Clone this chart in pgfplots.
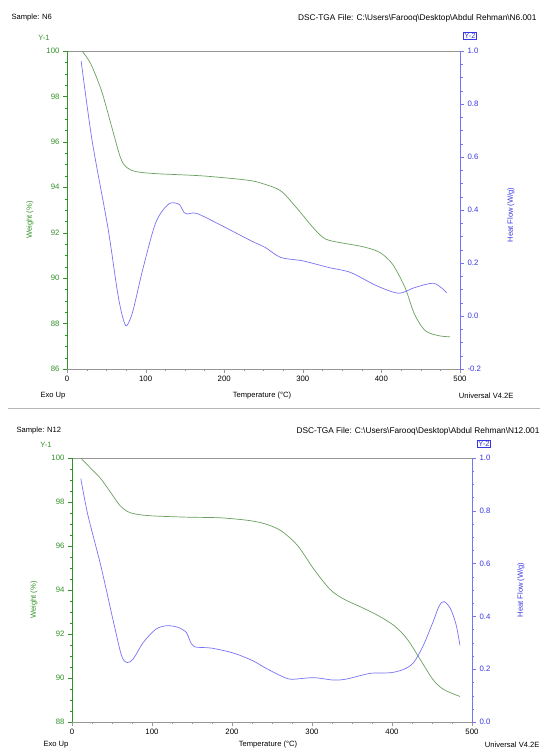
\documentclass[border=0pt]{standalone}
\usepackage{fontspec}
\setmainfont{Liberation Sans}
\usepackage{pgfplots}
\pgfplotsset{compat=1.18}
\usepackage{pgfplotstable}

\definecolor{tgagreen}{RGB}{105,160,95}
\definecolor{labgreen}{RGB}{50,145,40}
\definecolor{dscblue}{RGB}{120,115,245}
\definecolor{labblue}{RGB}{55,55,225}
\definecolor{framegray}{RGB}{150,150,150}

% N6: weight (%) and heat flow (W/g) against temperature
\pgfplotstableread{
T W
19 100.0
30 99.45
44 98.24
56 96.77
68 95.31
76 94.87
88 94.69
113 94.60
173 94.50
230 94.31
250 94.15
272 93.84
292 93.10
313 92.23
329 91.72
353 91.53
377 91.38
398 91.13
414 90.62
430 89.59
442 88.42
456 87.68
474 87.46
487 87.42
}\tgaA
\pgfplotstableread{
T H
18 0.962
32 0.661
52 0.334
64 0.095
70 0.005
75 -0.037
80 -0.015
85 0.032
97 0.183
113 0.353
129 0.422
141 0.424
145 0.412
149 0.390
153 0.385
165 0.387
193 0.347
234 0.284
252 0.259
272 0.221
300 0.208
333 0.183
361 0.164
394 0.114
422 0.086
442 0.107
467 0.123
483 0.088
}\dscA
% N12
\pgfplotstableread{
T W
11 100.0
24 99.51
36 99.06
48 98.45
60 97.84
71 97.54
85 97.42
105 97.36
145 97.31
186 97.28
221 97.16
241 97.01
261 96.70
282 96.02
302 94.96
322 94.05
338 93.62
362 93.21
383 92.83
403 92.37
419 91.77
435 90.86
451 89.94
464 89.49
485 89.16
}\tgaB
\pgfplotstableread{
T H
11 0.922
20 0.782
36 0.592
52 0.377
62 0.251
69 0.225
77 0.241
89 0.301
105 0.352
119 0.365
133 0.358
143 0.339
147 0.311
153 0.285
174 0.280
202 0.261
226 0.232
241 0.206
261 0.175
274 0.162
302 0.168
326 0.159
342 0.162
362 0.177
375 0.185
399 0.187
415 0.200
427 0.225
439 0.289
451 0.377
459 0.440
465 0.456
473 0.430
480 0.370
485 0.290
}\dscB

\pgfplotsset{
  panel/.style={
    scale only axis, anchor=south west,
    xmin=0, xmax=500,
    xtick={0,100,...,500}, minor x tick num=3,
    tick align=outside, major tick length=4pt, minor tick length=2.5pt,
    tick label style={font=\fontsize{7.8}{8}\selectfont},
    /pgf/number format/assume math mode=true,
  },
  leftax/.style={panel,
    axis x line*=box, axis y line*=left,
    x axis line style={framegray, -}, xtick pos=left,
    xtick style={framegray},
    y axis line style={labgreen, -},
    ytick style={labgreen}, yticklabel style={labgreen},
    ytick distance=2, minor y tick num=3,
  },
  rightax/.style={panel,
    axis x line=none, axis y line*=right,
    y axis line style={dscblue, -},
    ytick style={dscblue}, yticklabel style={labblue},
    ytick distance=0.2, minor y tick num=3,
    yticklabel style={/pgf/number format/.cd, fixed, fixed zerofill, precision=1},
  },
  tgaline/.style={tgagreen, line width=0.7pt, smooth, tension=0.5},
  dscline/.style={dscblue, line width=0.7pt, smooth, tension=0.5},
}

\begin{document}
\begin{tikzpicture}[font=\fontsize{7.6}{8}\selectfont]
\useasboundingbox (0pt,0pt) rectangle (544pt,750pt);

% ---- N6 ----
\begin{axis}[leftax, at={(67pt,381pt)}, width=393pt, height=318pt, ymin=86, ymax=100]
\addplot[tgaline] table[x=T, y=W] {\tgaA};
\end{axis}
\begin{axis}[rightax, at={(67pt,381pt)}, width=393pt, height=318pt, ymin=-0.2, ymax=1.0]
\addplot[dscline] table[x=T, y=H] {\dscA};
\end{axis}
\node[anchor=west] at (8pt,732pt) {Sample: N6};
\node[anchor=east, font=\fontsize{8.3}{9}\selectfont] at (540pt,732pt) {DSC-TGA File: C:\textbackslash Users\textbackslash Farooq\textbackslash Desktop\textbackslash Abdul Rehman\textbackslash N6.001};
\node[labgreen] at (44pt,712pt) {Y-1};
\node[labblue, draw=labblue, inner sep=1pt, line width=0.4pt] at (470pt,714pt) {Y-2};
\node[labgreen, rotate=90] at (30pt,530pt) {Weight (\%)};
\node[labblue, rotate=90] at (511pt,535pt) {Heat Flow (W/g)};
\node[anchor=west] at (37pt,354pt) {Exo Up};
\node at (262pt,354pt) {Temperature (\textdegree C)};
\node[anchor=east] at (517pt,354pt) {Universal V4.2E};

\draw[framegray!70, line width=0.6pt] (8pt,342pt) -- (540pt,342pt);

% ---- N12 ----
\begin{axis}[leftax, at={(72pt,28pt)}, width=400pt, height=264pt, ymin=88, ymax=100]
\addplot[tgaline] table[x=T, y=W] {\tgaB};
\end{axis}
\begin{axis}[rightax, at={(72pt,28pt)}, width=400pt, height=264pt, ymin=0, ymax=1.0]
\addplot[dscline] table[x=T, y=H] {\dscB};
\end{axis}
\node[anchor=west] at (13pt,319pt) {Sample: N12};
\node[anchor=east, font=\fontsize{8.3}{9}\selectfont] at (543pt,319pt) {DSC-TGA File: C:\textbackslash Users\textbackslash Farooq\textbackslash Desktop\textbackslash Abdul Rehman\textbackslash N12.001};
\node[labgreen] at (46pt,305pt) {Y-1};
\node[labblue, draw=labblue, inner sep=1pt, line width=0.4pt] at (484pt,306pt) {Y-2};
\node[labgreen, rotate=90] at (34pt,150pt) {Weight (\%)};
\node[labblue, rotate=90] at (521pt,160pt) {Heat Flow (W/g)};
\node[anchor=west] at (40pt,5pt) {Exo Up};
\node at (268pt,5pt) {Temperature (\textdegree C)};
\node[anchor=east] at (543pt,5pt) {Universal V4.2E};
\end{tikzpicture}
\end{document}
